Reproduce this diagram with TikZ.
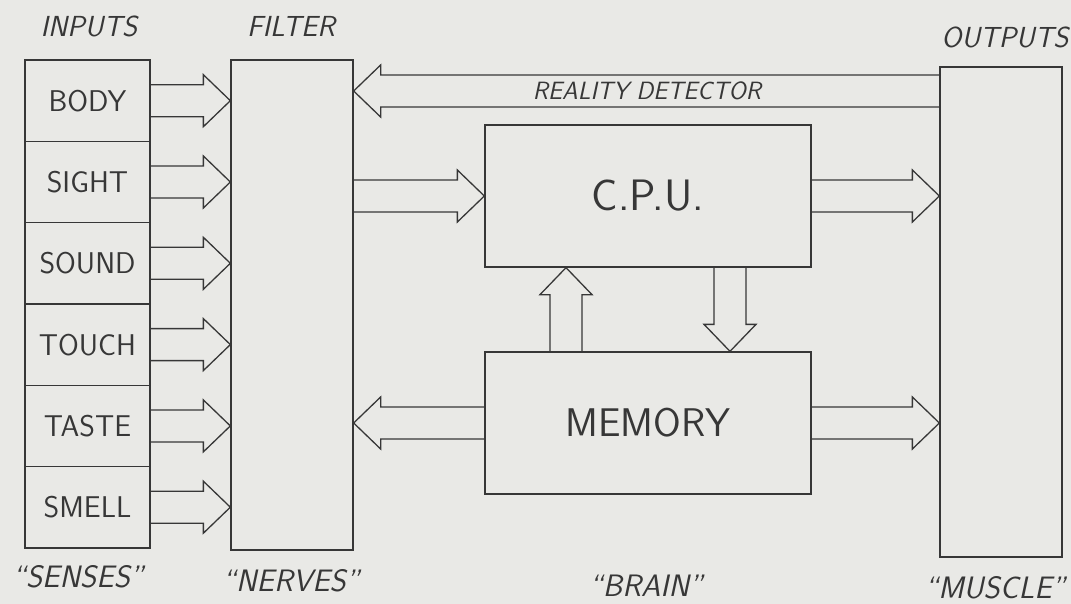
\documentclass[tikz,border=0pt]{standalone}
\usepackage{fontspec}
\usepackage{tikz}
\usetikzlibrary{calc}

\definecolor{paper}{RGB}{233,233,230}
\definecolor{ink}{RGB}{55,55,55}

\begin{document}
\begin{tikzpicture}[x=1pt,y=-1pt,node distance=81.3pt,
    every node/.style={text=ink},
    box/.style={draw=ink,line width=1.3pt,inner sep=0pt},
    sense/.style={box,minimum width=125pt,minimum height=81.3pt,font=\sffamily\fontsize{30}{30}\selectfont\addfontfeature{LetterSpace=4}},
    tall/.style={box,minimum width=122pt,minimum height=490pt},
    unit/.style={box,minimum width=326pt,minimum height=142pt},
    title/.style={font=\sffamily\itshape\fontsize{29}{29}\selectfont\addfontfeature{LetterSpace=6}},
    quote/.style={font=\sffamily\itshape\fontsize{31}{31}\selectfont\addfontfeature{LetterSpace=14}},
    fat/.style={draw=ink,line width=1.3pt,to path={let \p1=(\tikztostart), \p2=(\tikztotarget) in
      ($(\p1)!16pt!90:(\p2)$) -- ($(\p2)!27pt!(\p1)!16pt!90:(\p2)$) -- ($(\p2)!27pt!(\p1)!26pt!90:(\p2)$)
      -- (\p2) -- ($(\p2)!27pt!(\p1)!26pt!-90:(\p2)$) -- ($(\p2)!27pt!(\p1)!16pt!-90:(\p2)$) -- ($(\p1)!16pt!-90:(\p2)$)}}]
    \useasboundingbox (0,0) rectangle (1071,604);
    \fill[paper] (0,0) rectangle (1071,604);
    \node[sense] (body) at (87.5,100.7) {BODY};
    \node[sense] (sight) [below of=body] {SIGHT};
    \node[sense] (sound) [below of=sight] {SOUND};
    \node[sense] (touch) [below of=sound] {TOUCH};
    \node[sense] (taste) [below of=touch] {TASTE};
    \node[sense] (smell) [below of=taste] {SMELL};
    \node[tall] (filter) at (292,305) {};
    \node[tall] (outputs) at (1001,312) {};
    \node[unit,font=\sffamily\fontsize{44}{44}\selectfont] (cpu) at (648,196) {C.P.U.};
    \node[unit,font=\sffamily\fontsize{40}{40}\selectfont\addfontfeature{LetterSpace=4}] (memory) at (648,423) {MEMORY};
    \coordinate (rd) at (647,91);
    \node[font=\sffamily\itshape\fontsize{25}{25}\selectfont\addfontfeature{LetterSpace=8}] (rdtext) at (rd) {REALITY DETECTOR};
    \node[title] (inputs) at (89,26) {INPUTS};
    \node[title] (filtertitle) at (291,26) {FILTER};
    \node[title] (outtitle) at (1005,37) {OUTPUTS};
    \node[quote] (senses) at (78,577) {``SENSES''};
    \node[quote] (nerves) at (291,581) {``NERVES''};
    \node[quote] (brain) at (646,586) {``BRAIN''};
    \node[quote] (muscle) at (995,588) {``MUSCLE''};
    \foreach \s in {body,sight,sound,touch,taste,smell}
        \draw[fat] (\s.east) to (filter.west |- \s.east);
    \draw[fat] (filter.east |- cpu.west) to (cpu.west);
    \draw[fat] (cpu.east) to (outputs.west |- cpu.east);
    \draw[fat] (memory.west) to (filter.east |- memory.west);
    \draw[fat] (memory.east) to (outputs.west |- memory.east);
    \draw[fat] ([xshift=-82pt]memory.north) to ([xshift=-82pt]cpu.south);
    \draw[fat] ([xshift=82pt]cpu.south) to ([xshift=82pt]memory.north);
    \draw[fat] (outputs.west |- rd) to (filter.east |- rd);
\end{tikzpicture}
\end{document}
